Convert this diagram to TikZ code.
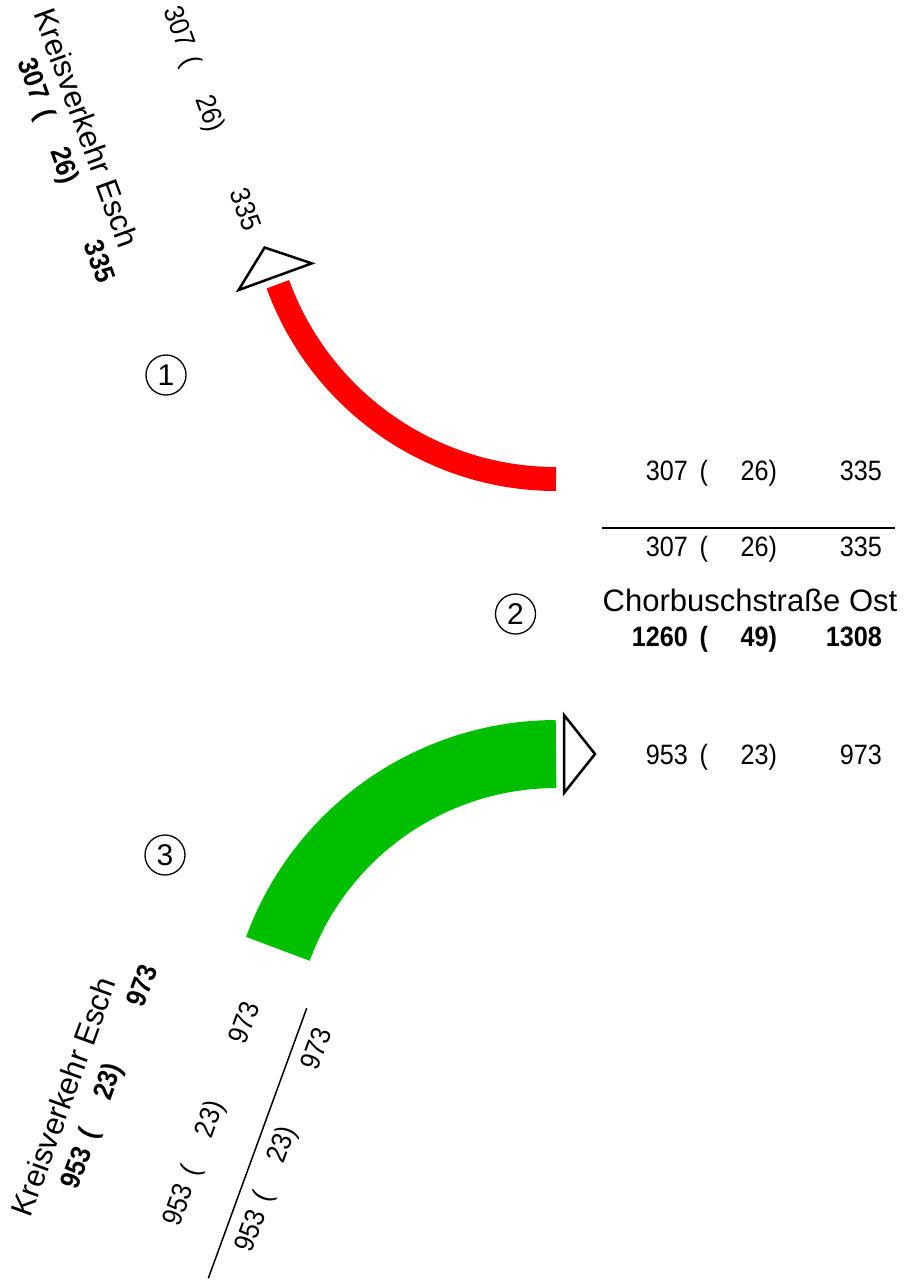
\documentclass[tikz,border=0pt]{standalone}
\usepackage{fontspec}
\setmainfont{Liberation Sans}
\newfontfamily\numfont[FakeStretch=0.9]{Liberation Sans}
\usepackage{tikz}
\definecolor{flowred}{RGB}{255,0,0}
\definecolor{flowgreen}{RGB}{0,191,0}
\newcommand{\flowrow}[3]{\makebox[86pt][r]{#1}\makebox[20pt][r]{(}\makebox[69pt][r]{#2)}\makebox[105pt][r]{#3}}
\tikzset{
    numtxt/.style={inner sep=0pt, text height=20pt, text depth=0pt, font=\numfont\fontsize{28}{28}\selectfont},
    sumtxt/.style={numtxt, font=\numfont\bfseries\fontsize{28}{28}\selectfont},
    nametxt/.style={inner sep=0pt, text height=22pt, text depth=0pt, font=\fontsize{31}{31}\selectfont},
    legno/.style={circle, draw, line width=1.3pt, minimum size=40pt, inner sep=0pt, text height=21pt, text depth=0pt, font=\fontsize{30}{30}\selectfont},
    flowhead/.pic={\draw[line width=2.5pt, fill=white] (0,-39) -- (31,0) -- (0,39) -- cycle;}
}
\begin{document}
\begin{tikzpicture}[x=1pt,y=1pt]
    \useasboundingbox (0,0) rectangle (919,-1280);
    \draw[flowred, line width=24pt] (556,-479) arc[start angle=270, end angle=200, radius=296];
    \draw[flowgreen, line width=68pt] (277.9,-948.8) arc[start angle=160, end angle=90, radius=296];
    \pic[rotate=110] at (275.2,-276.7) {flowhead};
    \pic at (564,-754) {flowhead};

    \node[legno] (leg1) at (166,-375) {1};
    \node[legno] (leg2) at (515.5,-614) {2};
    \node[legno] (leg3) at (165,-855) {3};

    \node[numtxt, rotate=-70] (r1a) at (205.7,-97.4) {\flowrow{307}{26}{335}};
    \node[nametxt, rotate=-70] (n1) at (86.7,-127.5) {Kreisverkehr Esch};
    \node[sumtxt, rotate=-70] (s1) at (59.9,-149.5) {\flowrow{307}{26}{335}};

    \node[numtxt] (r2a) at (742,-470) {\flowrow{307}{26}{335}};
    \coordinate (l2w) at (602,-528);
    \coordinate (l2e) at (895,-528);
    \draw[line width=1.5pt] (l2w) -- (l2e);
    \node[numtxt] (r2b) at (742,-546) {\flowrow{307}{26}{335}};
    \node[nametxt] (n2) at (750,-600) {Chorbuschstraße Ost};
    \node[sumtxt] (s2) at (742,-636) {\flowrow{1260}{49}{1308}};
    \node[numtxt] (r2c) at (742,-754) {\flowrow{953}{23}{973}};

    \node[numtxt, rotate=70] (r3a) at (202.8,-1134.3) {\flowrow{953}{23}{973}};
    \coordinate (l3n) at (306.7,-1008.3);
    \coordinate (l3s) at (208.3,-1278.3);
    \draw[line width=1.5pt] (l3n) -- (l3s);
    \node[numtxt, rotate=70] (r3b) at (274.9,-1160.1) {\flowrow{953}{23}{973}};
    \node[nametxt, rotate=70] (n3) at (63.3,-1096.7) {Kreisverkehr Esch};
    \node[sumtxt, rotate=70] (s3) at (101.1,-1097.2) {\flowrow{953}{23}{973}};
\end{tikzpicture}
\end{document}
